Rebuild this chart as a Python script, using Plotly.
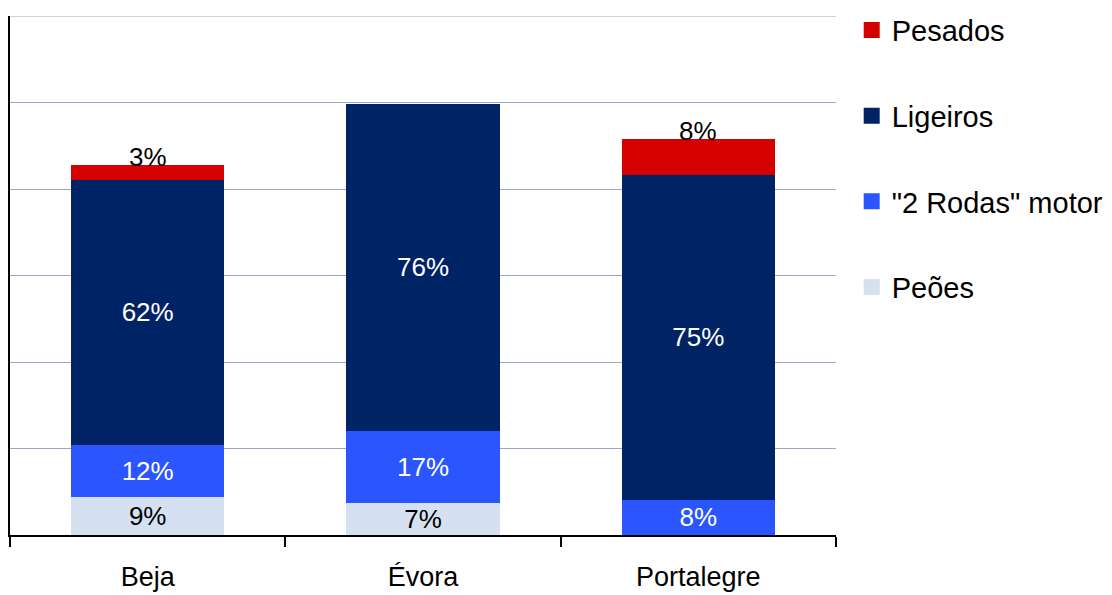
import plotly.graph_objects as go

categories = ["Beja", "Évora", "Portalegre"]

series_names = ["Peões", "\"2 Rodas\" motor", "Ligeiros", "Pesados"]
peoes = [21.8, 18.4, 0]
duas_rodas = [30.4, 42.0, 20.5]
ligeiros = [153.0, 188.8, 187.7]
pesados = [8.7, 0, 20.8]

peoes_lbl = ["9%", "7%", ""]
duas_rodas_lbl = ["12%", "17%", "8%"]
ligeiros_lbl = ["62%", "76%", "75%"]
pesados_lbl = ["3%", "", "8%"]

colors = ["#D5E0F0", "#2A55FF", "#002366", "#D50000"]
label_colors = ["black", "white", "white", "black"]
grid_color = "#9AA6C4"

FONT = "Liberation Sans, Arial, sans-serif"
FS = 26
FS_TICK = 27
FS_LEG = 29
Y_MAX = 300

fig = go.Figure()
values = [peoes, duas_rodas, ligeiros, pesados]
labels = [peoes_lbl, duas_rodas_lbl, ligeiros_lbl, pesados_lbl]
for i, (name, vals, lbls) in enumerate(zip(series_names, values, labels)):
    inside = i < 3
    fig.add_trace(go.Bar(
        x=categories, y=vals, name=name,
        marker=dict(color=colors[i], line=dict(width=0)),
        text=lbls if inside else None,
        textposition="inside" if inside else "none",
        insidetextanchor="middle",
        textangle=0,
        constraintext="none",
        textfont=dict(color=label_colors[i], size=FS, family=FONT),
        showlegend=False,
        hoverinfo="skip",
    ))

# Pesados labels sit around the top of each stack
for c, a, b, l, p, t in zip(categories, peoes, duas_rodas, ligeiros, pesados, pesados_lbl):
    if t:
        fig.add_annotation(x=c, y=a + b + l + p, text=t, showarrow=False,
                           yanchor="middle", yshift=8,
                           font=dict(color="black", size=FS, family=FONT))

# legend entries (top to bottom)
for i in [3, 2, 1, 0]:
    fig.add_trace(go.Scatter(
        x=[None], y=[None], mode="markers", name=series_names[i],
        marker=dict(symbol="square", size=16, color=colors[i]),
        legendgroup=series_names[i], showlegend=True,
    ))

# top gridline at the upper edge of the value axis
fig.add_shape(type="line", xref="paper", x0=0, x1=1, yref="y", y0=Y_MAX, y1=Y_MAX,
              line=dict(color=grid_color, width=1), layer="below")

fig.update_layout(
    width=1112, height=595,
    barmode="stack", bargap=0.444,
    plot_bgcolor="white", paper_bgcolor="white",
    margin=dict(l=10, r=276, t=16, b=60, autoexpand=False),
    font=dict(family=FONT, size=FS, color="black"),
    showlegend=True,
    legend=dict(x=1.019, y=1.022, xanchor="left", yanchor="top",
                traceorder="grouped", tracegroupgap=45,
                maxheight=590,
                font=dict(size=FS_LEG, family=FONT, color="black"),
                itemsizing="trace", bgcolor="rgba(0,0,0,0)"),
    xaxis=dict(showline=True, linecolor="black", linewidth=2,
               ticks="outside", tickson="boundaries", ticklen=10,
               tickwidth=2, tickcolor="black", ticklabelstandoff=17,
               tickfont=dict(size=FS_TICK, family=FONT, color="black"),
               showgrid=False, zeroline=False),
    yaxis=dict(range=[0, Y_MAX], dtick=50, showgrid=True,
               gridcolor=grid_color, gridwidth=1,
               showline=True, linecolor="black", linewidth=2,
               showticklabels=False, ticks="", zeroline=False),
)

fig.write_html("out.html",
               config={"displayModeBar": False},
               post_script="document.body.style.margin='0';document.body.style.overflow='hidden';")
